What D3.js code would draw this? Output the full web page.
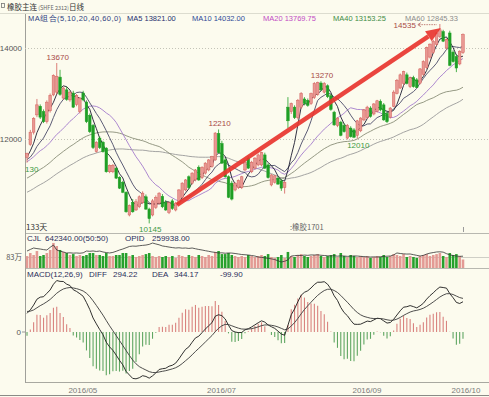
<!DOCTYPE html>
<html>
<head>
<meta charset="utf-8">
<title>橡胶主连 日线</title>
<script src="https://d3js.org/d3.v7.min.js"></script>
<style>
	body { margin:0; background:#fcfbee; }
	#plot { width:489px; height:397px; }
	text { font-family: "Liberation Sans", Arial, sans-serif; }
</style>
</head>
<body>
<div id="plot"></div>
<script>
// closes before the first visible day (only used to warm up the MA / MACD lines)
var priorCloses = [9950,9880,9920,10050,10010,10120,10080,10180,10230,10150,10260,10310,10240,10350,10300,10420,10380,10450,10400,10520,
	10480,10550,10600,10520,10640,10700,10660,10750,10820,10780,10850,10790,10880,10930,10860,10950,11010,10940,11030,10860,
	11150,11280,11350,11220,11420,11560,11480,11600,11690,11750,11620,11480,11390,11510,11500,11450,11620,11580,11670]

var opens = [11600,11880,12150,12530,12720,12600,12380,12620,12970,13030,13360,12900,13080,12860,13010,12760,12600,13010,12810,12520,
	12300,11720,12020,11930,11800,11280,11280,11360,11160,11050,10830,10330,10610,10440,10510,10600,10730,10460,10330,10500,
	10590,10740,10600,10390,10640,10440,10590,10720,10880,11170,11030,11100,11380,11150,11250,11320,11400,11540,12120,11900,
	11540,11170,11030,10880,10930,10930,11320,11580,11280,11360,11430,11430,11650,11430,10990,11050,11140,11080,10930,12700,
	12600,12700,12470,12700,12880,12850,12780,12910,12980,13230,13030,13170,12950,12590,12300,12370,12300,12020,12240,12200,
	12080,12180,12420,12470,12680,12550,12610,12830,12750,12560,12480,12720,13000,13120,13220,13410,13150,13350,13300,13230,
	13420,13570,13800,13900,14080,14250,14360,14000,14330,13910,13810,13650,13900]
var highs = [11700,12200,12480,12880,12760,12650,12850,13000,13420,13670,13520,13150,13150,13060,13060,12990,12920,13060,12850,12560,
	12330,11950,12060,11960,11820,11440,11450,11380,11180,11080,10850,10560,10680,10680,10760,10850,10780,10490,10680,10760,
	10830,10790,10660,10620,10680,10620,10900,11050,11120,11200,11270,11340,11420,11400,11490,11560,11630,12150,12210,11960,
	11580,11200,11080,11050,11110,11190,11520,11620,11520,11600,11680,11720,11700,11470,11230,11210,11180,11120,11070,12920,
	12800,12740,12880,13030,12920,12890,13020,13250,13260,13270,13250,13200,12990,12620,12480,12400,12340,12330,12280,12240,
	12420,12480,12660,12730,12720,12790,12860,12870,12790,12600,12700,13070,13320,13440,13500,13460,13370,13390,13340,13560,
	13730,14030,14100,14180,14350,14535,14400,14210,14380,13950,13860,13950,14320]
var lows = [11480,11850,12100,12480,12440,12350,12340,12580,12940,12980,12950,12860,12840,12820,12680,12720,12560,12830,12350,12130,
	11780,11700,11780,11700,11260,11250,11250,11120,10900,10810,10380,10300,10380,10420,10480,10570,10440,10145,10300,10460,
	10560,10480,10420,10350,10440,10410,10560,10690,10850,10900,11000,11070,11080,11120,11220,11290,11370,11520,11680,11450,
	11150,10700,10650,10850,10900,10900,11290,11340,11250,11330,11400,11400,11340,11130,10960,11020,10990,10860,10800,12240,
	12550,12440,12430,12660,12740,12710,12750,12880,12950,13060,13000,12900,12620,12290,12260,12060,12140,11990,12030,12020,
	12010,12150,12390,12440,12470,12520,12580,12610,12400,12350,12450,12700,12980,13100,13180,13200,13120,13130,13120,13200,
	13390,13540,13770,13870,14050,14220,14130,13970,13600,13680,13470,13620,13870]
var closes = [11680,12150,12450,12750,12480,12380,12810,12960,13400,13380,12980,13120,12870,13030,12700,12960,12900,12860,12380,12160,
	11810,11930,11810,11720,11280,11420,11420,11140,10920,10830,10400,10540,10400,10620,10730,10810,10460,10250,10640,10720,
	10810,10510,10440,10600,10470,10590,10880,11030,11100,10930,11250,11320,11100,11380,11470,11540,11610,12130,11700,11470,
	11170,10720,10680,11030,11090,11170,11490,11360,11490,11580,11650,11700,11360,11150,11210,11190,11010,10920,11050,12400,
	12780,12470,12850,13000,12780,12740,13000,13220,13240,13080,13220,12930,12650,12310,12460,12080,12160,12300,12050,12040,
	12400,12460,12640,12700,12500,12770,12840,12640,12420,12380,12680,13030,13290,13410,13480,13220,13350,13150,13130,13540,
	13700,14010,14085,14150,14330,14400,14150,14185,13620,13700,13560,13930,14295]
// volume and open interest, in 万
var volume = [90,113,98,128,90.5,98,113,136,189,166, 136,121,113,98,105,90.5,98,90.5,98,113,
	113,98,98,90.5,113,90.5,90.5,98,98,113, 113,90.5,98,83,90.5,98,105,113,90.5,83,
	90.5,83,90.5,83,90.5,76,98,90.5,83,98, 90.5,83,98,90.5,83,98,90.5,121,128,105,
	105,113,98,90.5,83,90.5,83,98,90.5,83, 90.5,98,90.5,105,83,76,83,98,76,121,
	90.5,83,98,105,90.5,83,90.5,98,105,90.5, 83,90.5,98,105,83,113,90.5,83,98,90.5,
	83,90.5,83,90.5,76,83,90.5,83,98,83, 90.5,105,98,90.5,105,83,90.5,83,76,90.5,
	98,105,90.5,98,105,113,90.5,83,113,98, 105,90.5,64.234]
var opid = [32.1,34.0,35.7,35.0,34.5,33.8,33.3,36.5,39.2,33.3, 32.0,31.0,29.8,30.0,29.6,29.8,29.5,30.0,32.1,31.8,
	32.2,31.6,32.1,31.0,30.3,29.8,30.5,31.8,33.3,34.5, 36.0,37.5,38.0,37.8,38.4,38.8,39.2,40.0,41.6,40.5,
	39.5,38.1,37.5,36.8,36.2,35.7,36.0,35.5,35.7,35.2, 35.7,34.8,34.0,33.3,32.5,31.8,31.0,30.5,29.8,30.0,
	29.5,29.8,29.7,29.2,28.6,28.0,27.7,27.4,26.8,26.2, 25.0,24.6,24.0,23.5,22.8,22.0,20.5,19.1,20.0,21.5,
	26.2,26.6,27.0,26.8,27.3,27.0,27.5,27.4,27.6,27.1, 26.8,26.5,26.2,26.6,26.0,26.4,26.2,25.8,26.0,26.3,
	26.2,25.8,25.5,25.2,25.0,25.2,25.0,25.4,25.8,26.0, 26.2,27.5,29.8,29.2,28.8,28.5,28.6,27.8,27.0,26.2,
	27.0,28.5,29.6,30.3,31.0,31.2,30.8,29.0,27.6,26.8, 26.2,25.8,25.9938]

var maPeriods = [5, 10, 20, 40, 60]
var maColors = ['#1c1c30', '#4a4a68', '#a47ccc', '#8a8f78', '#9a9a9a']
var maLegend = ['MA5 13821.00', 'MA10 14032.00', 'MA20 13769.75', 'MA40 13153.25', 'MA60 12845.33']
var maLegendColors = ['#26306e', '#2e4a96', '#c24cc4', '#3f8c45', '#8c8c8c']

var priceTicks = [12000, 14000]
var xTickIdx = [16, 58, 102, 132]
var xTickText = ['2016/05', '2016/07', '2016/09', '2016/10']
var highMarks = [{i:9, v:13670}, {i:58, v:12210}, {i:89, v:13270}]
var lowMarks = [{i:37, v:10145}, {i:100, v:12010}]
var topMark = {i:125, v:14535}
var arrowFrom = [45.4, 10550], arrowTo = [125.3, 14440]

var W = 489, H = 397
var up = '#e99893', upLine = '#d4605c', down = '#1f9f25'
var svg = d3.select('#plot').append('svg')
	.attr('width', W).attr('height', H)
svg.append('rect').attr('width', W).attr('height', H).attr('fill', '#fcfbee')

var x = d3.scaleBand().domain(d3.range(closes.length)).range([25, 465]).padding(0.22)
var cx = function(i){ return x(i) + x.bandwidth()/2 }
var y = d3.scaleLinear().domain([12000, 14000]).range([139, 48])
var yVol = d3.scaleLinear().domain([0, 83]).range([268, 257])
var yOpid = d3.scaleLinear().domain([12, 44]).range([268, 241])
var yMacd = d3.scaleLinear().domain([-500, 500]).range([382, 282])

var defs = svg.append('defs')
defs.append('clipPath').attr('id','clipMain').append('rect').attr('x',25).attr('y',24).attr('width',W-25).attr('height',209)
defs.append('clipPath').attr('id','clipMacd').append('rect').attr('x',25).attr('y',278).attr('width',W-25).attr('height',104)

// frame
function hline(yy, x1, col){ svg.append('line').attr('x1',x1).attr('x2',W).attr('y1',yy).attr('y2',yy).attr('stroke',col).attr('stroke-width',1) }
hline(13.5, 0, '#dcdccf')
hline(233.5, 25, '#b8b8b0')
hline(257.5, 25, '#cfcfc6')
hline(268.5, 25, '#b8b8b0')
hline(382.5, 25, '#a8a8a0')
hline(395.5, 0, '#8a8a86')
svg.append('line').attr('x1',25.5).attr('x2',25.5).attr('y1',14).attr('y2',383).attr('stroke','#a0a09a')

// price grid + labels
svg.append('g').attr('transform','translate(25,0)')
	.call(d3.axisLeft(y).tickValues(priceTicks).tickSize(-(W-25)).tickFormat(''))
	.call(function(g){ g.select('.domain').remove() })
	.selectAll('line').attr('stroke','#c4c4b8').attr('stroke-dasharray','1,2')
svg.append('g').attr('transform','translate(25,0)')
	.call(d3.axisLeft(y).tickValues(priceTicks).tickSize(0).tickPadding(3).tickFormat(d3.format('d')))
	.call(function(g){ g.select('.domain').remove() })
	.selectAll('text').attr('fill','#555').style('font-size','8px')

// title + legend
svg.append('rect').attr('x',1.5).attr('y',3.5).attr('width',3).attr('height',4).attr('fill','none').attr('stroke','#777').attr('stroke-width',0.8)
var title = svg.append('text').attr('x',7).attr('y',9.5).attr('fill','#333').style('font-size','7.5px')
	.style('font-family','"Noto Sans CJK SC", sans-serif')
title.append('tspan').text('橡胶主连')
title.append('tspan').text(' (SHFE 2312)').style('font-size','5.5px').attr('fill','#666')
title.append('tspan').text('日线')

svg.append('text').attr('x',28).attr('y',20.5).attr('fill','#2f3f80').style('font-size','7.5px')
	.attr('textLength',93).attr('lengthAdjust','spacing').text('MA组合(5,10,20,40,60,0)')
var legendX = [127, 192, 263, 333, 405]
maLegend.forEach(function(t, k){
	svg.append('text').attr('x',legendX[k]).attr('y',20.5).attr('fill',maLegendColors[k]).style('font-size','7.5px').text(t)
})

// moving averages
var allCloses = priorCloses.concat(closes)
var off = priorCloses.length
function movingAvg(n){
	return closes.map(function(c, i){
		var k = i + off
		return d3.mean(allCloses.slice(k - n + 1, k + 1))
	})
}
var main = svg.append('g').attr('clip-path','url(#clipMain)')
var line = d3.line().x(function(d, i){ return cx(i) }).y(function(d){ return y(d) })
maPeriods.slice().reverse().forEach(function(n){
	var k = maPeriods.indexOf(n)
	main.append('path').datum(movingAvg(n))
		.attr('d', line).attr('fill','none').attr('stroke', maColors[k]).attr('stroke-width', 0.9)
})

// candles
var candle = main.selectAll('g.candle').data(closes).enter().append('g').attr('class','candle')
candle.append('line')
	.attr('x1', function(d, i){ return cx(i) }).attr('x2', function(d, i){ return cx(i) })
	.attr('y1', function(d, i){ return y(highs[i]) }).attr('y2', function(d, i){ return y(lows[i]) })
	.attr('stroke', function(d, i){ return d >= opens[i] ? upLine : down }).attr('stroke-width', 0.8)
candle.append('rect')
	.attr('x', function(d, i){ return x(i) })
	.attr('width', x.bandwidth())
	.attr('y', function(d, i){ return y(Math.max(d, opens[i])) })
	.attr('height', function(d, i){ return Math.max(1, Math.abs(y(d) - y(opens[i]))) })
	.attr('fill', function(d, i){ return d >= opens[i] ? up : down })
	.attr('stroke', function(d, i){ return d >= opens[i] ? upLine : down }).attr('stroke-width', 0.5)

// trend arrow
var ax1 = cx(0) + (arrowFrom[0]) * x.step(), ay1 = y(arrowFrom[1])
var ax2 = cx(0) + (arrowTo[0]) * x.step(), ay2 = y(arrowTo[1])
var ang = Math.atan2(ay2 - ay1, ax2 - ax1)
var headL = 15, headW = 6
var bx = ax2 - headL * Math.cos(ang), by = ay2 - headL * Math.sin(ang)
main.append('line').attr('x1',ax1).attr('y1',ay1).attr('x2',bx).attr('y2',by)
	.attr('stroke','#e8352f').attr('stroke-width',4.5).attr('stroke-opacity',0.92)
main.append('path')
	.attr('d', 'M' + ax2 + ',' + ay2 +
		'L' + (bx + headW * Math.sin(ang)) + ',' + (by - headW * Math.cos(ang)) +
		'L' + (bx - headW * Math.sin(ang)) + ',' + (by + headW * Math.cos(ang)) + 'Z')
	.attr('fill','#e8352f').attr('fill-opacity',0.92)

// high / low marks
highMarks.forEach(function(m){
	svg.append('text').attr('x', cx(m.i) + 1).attr('y', y(m.v) - 3).attr('text-anchor','middle')
		.attr('fill','#a84a46').style('font-size','8px').text(m.v)
})
lowMarks.forEach(function(m){
	svg.append('text').attr('x', cx(m.i) + 1).attr('y', y(m.v) + 9).attr('text-anchor','middle')
		.attr('fill','#3c9a44').style('font-size','8px').text(m.v)
})
svg.append('text').attr('x', cx(topMark.i) - 24).attr('y', y(topMark.v) + 4).attr('text-anchor','end')
	.attr('fill','#a84a46').style('font-size','8px').text(topMark.v)
svg.append('line').attr('x1', cx(topMark.i) - 21).attr('x2', cx(topMark.i) - 3)
	.attr('y1', y(topMark.v) + 1).attr('y2', y(topMark.v) + 1)
	.attr('stroke','#a84a46').attr('stroke-width',0.7).attr('stroke-dasharray','1.5,1')
svg.append('path').attr('d', 'M' + (cx(topMark.i) - 22) + ',' + (y(topMark.v) + 1) + 'l3,-2m-3,2l3,2')
	.attr('stroke','#a84a46').attr('stroke-width',0.7).attr('fill','none')
svg.append('text').attr('x', 25).attr('y', 172).attr('fill','#3c9a44').style('font-size','8px').text('130')

svg.append('text').attr('x', 26).attr('y', 230).attr('fill','#333').style('font-size','8px')
	.style('font-family','"Noto Sans CJK SC", sans-serif').text(closes.length + '天')
svg.append('text').attr('x', cx(79) + 2).attr('y', 230).attr('fill','#666').style('font-size','7.5px')
	.style('font-family','"Noto Sans CJK SC", sans-serif').text(':橡胶1701')
svg.append('line').attr('x1', cx(132) + 0.5).attr('x2', cx(132) + 0.5).attr('y1', 227).attr('y2', 232).attr('stroke','#999')

// volume panel
svg.append('g').selectAll('rect').data(volume).enter().append('rect')
	.attr('x', function(d, i){ return x(i) })
	.attr('width', x.bandwidth())
	.attr('y', function(d){ return yVol(d) })
	.attr('height', function(d){ return 268 - yVol(d) })
	.attr('fill', function(d, i){ return closes[i] >= opens[i] ? '#e39a94' : '#27a02c' })
svg.append('path').datum(opid)
	.attr('d', d3.line().x(function(d, i){ return cx(i) }).y(function(d){ return yOpid(d) }))
	.attr('fill','none').attr('stroke','#333').attr('stroke-width',0.8)
var volText = svg.append('g').style('font-size','8px').attr('fill','#2b2f5c')
volText.append('text').attr('x',27).attr('y',241).text('CJL')
volText.append('text').attr('x',45).attr('y',241).text('642340.00(50:50)')
volText.append('text').attr('x',125).attr('y',241).text('OPID')
volText.append('text').attr('x',152).attr('y',241).text('259938.00')
svg.append('text').attr('x',22).attr('y',yVol(83) + 3).attr('text-anchor','end').attr('fill','#555')
	.style('font-size','7.5px').style('font-family','"Noto Sans CJK SC", sans-serif').text('83万')

// MACD panel
var e12, e26, dea, diffArr = [], deaArr = []
allCloses.forEach(function(c, k){
	if (k == 0) { e12 = c; e26 = c }
	else { e12 = e12 * 11/13 + c * 2/13; e26 = e26 * 25/27 + c * 2/27 }
	var d = e12 - e26
	dea = k == 0 ? d : dea * 8/10 + d * 2/10
	diffArr.push(d); deaArr.push(dea)
})
diffArr = diffArr.slice(off); deaArr = deaArr.slice(off)
var hist = diffArr.map(function(d, i){ return 2 * (d - deaArr[i]) })

var macd = svg.append('g').attr('clip-path','url(#clipMacd)')
macd.selectAll('line').data(hist).enter().append('line')
	.attr('x1', function(d, i){ return cx(i) }).attr('x2', function(d, i){ return cx(i) })
	.attr('y1', yMacd(0)).attr('y2', function(d){ return yMacd(d) })
	.attr('stroke', function(d){ return d >= 0 ? '#d9837f' : '#5fa662' }).attr('stroke-width', 1.1)
var mline = d3.line().x(function(d, i){ return cx(i) }).y(function(d){ return yMacd(d) })
macd.append('path').datum(diffArr).attr('d', mline).attr('fill','none').attr('stroke','#1a1a1a').attr('stroke-width',0.9)
macd.append('path').datum(deaArr).attr('d', mline).attr('fill','none').attr('stroke','#3a3a3a').attr('stroke-width',0.9)

var macdText = svg.append('g').style('font-size','8px').attr('fill','#2b2f5c')
macdText.append('text').attr('x',27).attr('y',277).text('MACD(12,26,9)')
macdText.append('text').attr('x',89).attr('y',277).text('DIFF')
macdText.append('text').attr('x',113).attr('y',277).text('294.22')
macdText.append('text').attr('x',152).attr('y',277).text('DEA')
macdText.append('text').attr('x',174).attr('y',277).text('344.17')
macdText.append('text').attr('x',220).attr('y',277).text('-99.90')
svg.append('text').attr('x',21).attr('y',yMacd(0) + 3).attr('text-anchor','end').attr('fill','#555').style('font-size','8px').text('0')
svg.append('line').attr('x1',22).attr('x2',25).attr('y1',yMacd(0)).attr('y2',yMacd(0)).attr('stroke','#999')

// date labels
svg.append('g').selectAll('text').data(xTickIdx).enter().append('text')
	.attr('x', function(d){ return cx(d) + 3 }).attr('y', 393).attr('text-anchor','middle')
	.attr('fill','#7a7a7a').style('font-size','8px')
	.text(function(d, k){ return xTickText[k] })
</script>
</body>
</html>
